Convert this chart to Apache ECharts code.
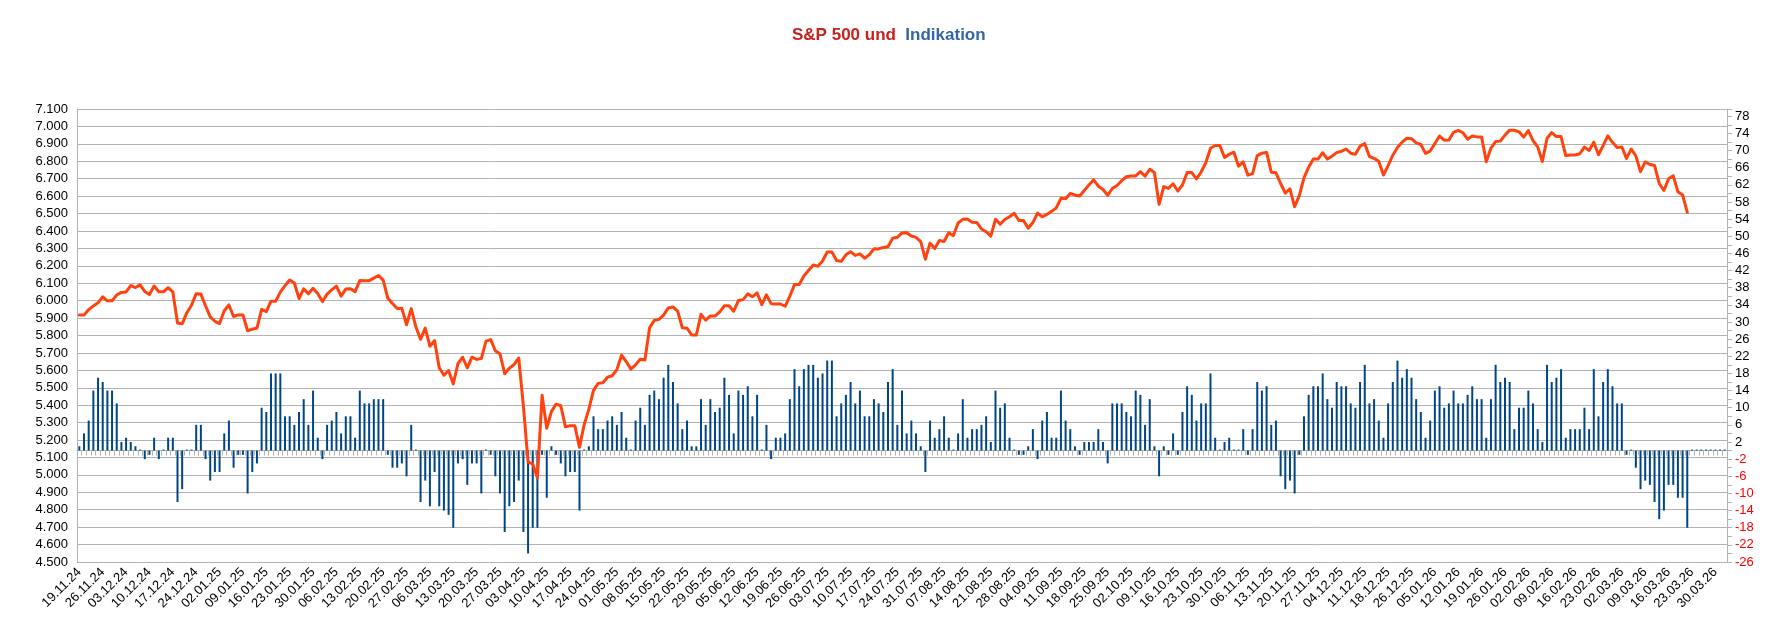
<!DOCTYPE html>
<html><head><meta charset="utf-8">
<script src="https://cdn.jsdelivr.net/npm/echarts@6/dist/echarts.min.js"></script>
<style>html,body{margin:0;padding:0;background:#fff}#c{width:1791px;height:631px}</style>
</head><body><div id="c"></div>
<script>
// x-axis tick labels (every 5th trading-day category)
const tickLabels = ['19.11.24','26.11.24','03.12.24','10.12.24','17.12.24','24.12.24','02.01.25','09.01.25','16.01.25','23.01.25','30.01.25','06.02.25','13.02.25','20.02.25','27.02.25','06.03.25','13.03.25','20.03.25','27.03.25','03.04.25','10.04.25','17.04.25','24.04.25','01.05.25','08.05.25','15.05.25','22.05.25','29.05.25','05.06.25','12.06.25','19.06.25','26.06.25','03.07.25','10.07.25','17.07.25','24.07.25','31.07.25','07.08.25','14.08.25','21.08.25','28.08.25','04.09.25','11.09.25','18.09.25','25.09.25','02.10.25','09.10.25','16.10.25','23.10.25','30.10.25','06.11.25','13.11.25','20.11.25','27.11.25','04.12.25','11.12.25','18.12.25','26.12.25','05.01.26','12.01.26','19.01.26','26.01.26','02.02.26','09.02.26','16.02.26','23.02.26','02.03.26','09.03.26','16.03.26','23.03.26','30.03.26'];
const categoryCount = 353;

// S&P 500 closes (left axis)
const sp500 = [
5916.98,5917.11,5948.71,5969.34,5987.37,6021.63,5998.74,5998.74,6032.38,6047.15,
6049.88,6086.49,6075.11,6090.27,6052.85,6034.91,6084.19,6051.25,6051.09,6074.08,
6050.61,5872.16,5867.08,5930.85,5974.07,6040.04,6037.59,5970.84,5906.94,5881.63,
5868.55,5942.47,5975.38,5909.03,5918.25,5918.25,5827.04,5836.22,5842.91,5949.91,
5937.34,5996.66,5996.66,6049.24,6086.37,6118.71,6101.24,6012.28,6067.70,6039.31,
6071.17,6040.53,5994.57,6037.88,6061.48,6083.57,6025.99,6066.44,6068.50,6051.97,
6115.07,6114.63,6114.63,6129.58,6144.15,6117.52,6013.13,5983.25,5955.25,5956.06,
5861.57,5954.50,5849.72,5778.15,5842.63,5738.52,5770.20,5614.56,5572.07,5599.30,
5521.52,5638.94,5675.12,5614.66,5675.29,5662.89,5667.56,5767.57,5776.65,5712.20,
5693.31,5580.94,5611.85,5633.07,5670.97,5396.52,5074.08,5062.25,4982.77,5456.90,
5268.05,5363.36,5405.97,5396.63,5275.70,5282.70,5282.70,5158.20,5287.76,5375.86,
5484.77,5525.21,5528.75,5560.83,5569.06,5604.14,5686.67,5650.38,5606.91,5631.28,
5663.94,5659.91,5844.19,5886.55,5892.58,5916.93,5958.38,5963.60,5940.46,5844.61,
5842.01,5802.82,5802.82,5921.54,5888.55,5912.17,5911.69,5935.94,5970.37,5970.81,
5939.30,6000.36,6005.88,6038.81,6022.24,6045.26,5976.97,6033.11,5982.72,5980.87,
5980.87,5967.84,6025.17,6092.18,6092.16,6141.02,6173.07,6204.95,6198.01,6227.42,
6279.35,6279.35,6229.98,6225.52,6263.26,6280.46,6259.75,6268.56,6243.76,6263.70,
6297.36,6296.79,6305.60,6309.62,6358.91,6363.35,6388.64,6389.77,6370.86,6362.90,
6339.39,6238.01,6329.94,6299.19,6345.06,6340.00,6389.45,6373.45,6445.76,6466.58,
6468.54,6449.80,6449.15,6411.37,6395.78,6370.17,6466.91,6439.32,6465.94,6481.40,
6501.86,6460.26,6460.26,6415.54,6448.26,6502.08,6481.50,6495.15,6512.61,6532.04,
6587.47,6584.29,6615.28,6606.76,6600.35,6631.96,6664.36,6693.75,6656.92,6637.97,
6604.72,6643.70,6661.21,6688.46,6711.20,6715.35,6715.79,6740.28,6714.59,6753.72,
6735.11,6552.51,6654.72,6644.31,6671.06,6629.07,6664.01,6735.13,6735.35,6699.40,
6738.44,6791.69,6875.16,6890.89,6890.59,6822.34,6840.20,6851.97,6771.55,6796.29,
6720.32,6728.80,6832.43,6846.61,6850.92,6737.49,6734.11,6672.41,6617.32,6642.16,
6538.76,6602.99,6705.12,6765.88,6812.61,6812.61,6849.09,6812.63,6829.37,6849.72,
6857.12,6870.40,6846.51,6840.51,6886.68,6901.00,6827.41,6816.51,6800.26,6721.43,
6774.76,6834.50,6878.49,6909.79,6932.05,6929.94,6905.74,6896.24,6845.50,6858.47,
6902.05,6944.82,6920.93,6921.46,6966.28,6977.27,6963.74,6926.60,6944.47,6940.01,
6940.01,6796.86,6875.62,6913.35,6915.61,6950.23,6978.60,6978.03,6969.01,6939.03,
6976.44,6917.81,6882.72,6798.40,6932.30,6964.82,6941.81,6941.47,6832.76,6836.17,
6836.17,6843.22,6881.31,6861.89,6909.51,6837.75,6890.07,6946.13,6908.86,6878.88,
6881.62,6816.63,6869.50,6830.71,6740.02,6795.99,6781.48,6775.80,6672.62,6632.19,
6699.38,6716.09,6624.70,6606.49,6506.48
];

// Indikation (right axis)
const indikation = [
1,4,7,14,17,16,14,14,11,2, 3,2,1,0,-2,-1,3,-2,0,3,
3,-12,-9,0,0,6,6,-2,-7,-5, -5,4,7,-4,-1,-1,-10,-5,-3,10,
9,18,18,18,8,8,6,9,12,6, 14,3,-2,6,7,9,4,8,8,3,
14,11,11,12,12,12,-1,-4,-4,-3, -6,6,0,-12,-7,-13,-5,-13,-14,-15,
-18,-3,-2,-8,-3,-3,-10,0,-1,-6, -10,-19,-13,-12,-7,-19,-24,-18,-18,-1,
-11,1,-1,-3,-6,-5,-5,-14,0,1, 8,5,5,7,8,6,9,3,0,7,
10,6,13,14,12,17,20,16,11,5, 7,1,1,12,6,12,9,10,17,13,
4,14,13,15,8,13,0,6,-2,3, 3,4,12,19,15,19,20,20,17,18,
21,21,8,11,13,16,11,14,8,8, 12,11,9,16,19,6,14,4,7,4,
1,-5,7,3,5,8,3,0,4,12, 3,5,5,6,8,2,14,10,11,3,
0,-1,-1,1,5,-2,7,9,3,3, 14,7,5,1,-1,2,2,2,5,2,
-3,11,11,11,9,8,14,13,6,12, 1,-6,1,-1,4,-1,9,15,13,7,
11,11,18,3,0,2,3,0,0,5, -1,5,16,14,15,6,7,-6,-9,-7,
-10,-1,8,13,15,15,18,12,10,16, 15,15,11,10,16,20,11,12,7,3,
11,16,21,17,19,17,12,9,3,7, 14,15,10,11,14,11,11,13,15,12,
12,3,12,20,16,17,16,5,10,10, 14,11,5,2,20,16,17,19,3,5,
5,5,10,5,19,8,16,19,15,11, 11,-1,0,-4,-9,-7,-8,-12,-16,-14,
-8,-8,-11,-11,-18,0,0,0,0,0, 0,0,0
];

const categories = [];
for (let i = 0; i < categoryCount; i++) categories.push(i % 5 === 0 ? tickLabels[i / 5] : '');

const FONT = "'Liberation Sans', Arial, sans-serif";
const GRID = '#b3b3b3';
const fmtThousands = v => {
  const s = String(Math.round(v));
  return s.length > 3 ? s.slice(0, s.length - 3) + '.' + s.slice(-3) : s;
};

const chart = echarts.init(document.getElementById('c'), null, {renderer: 'canvas'});
chart.setOption({
  animation: false,
  backgroundColor: '#ffffff',
  title: {
    text: '{r|S&P 500 und}  {b|Indikation}',
    left: 792, top: 27, padding: 0,
    textStyle: {
      fontSize: 17, fontWeight: 'bold', fontFamily: FONT,
      rich: {
        r: {color: '#c9211e', fontSize: 17, fontWeight: 'bold', fontFamily: FONT},
        b: {color: '#3465a4', fontSize: 17, fontWeight: 'bold', fontFamily: FONT}
      }
    }
  },
  grid: {left: 77, right: 64, top: 109, bottom: 69},
  xAxis: {
    type: 'category', data: categories, boundaryGap: true,
    axisLine: {show: true, lineStyle: {color: GRID}},
    axisTick: {show: true, interval: 0, length: 5, lineStyle: {color: GRID}},
    axisLabel: {interval: 4, rotate: 45, fontSize: 13, fontFamily: FONT, color: '#000', margin: 8},
    splitLine: {show: false}
  },
  yAxis: [
    {
      type: 'value', position: 'left', min: 4500, max: 7100, interval: 100,
      axisLine: {show: true, lineStyle: {color: GRID}},
      axisTick: {show: false},
      splitLine: {show: true, lineStyle: {color: GRID, width: 1}},
      axisLabel: {formatter: fmtThousands, fontSize: 13, fontFamily: FONT, color: '#000', margin: 9}
    },
    {
      type: 'value', position: 'right', min: -26, max: 79.7, interval: 4,
      axisLine: {show: true, lineStyle: {color: GRID}},
      axisTick: {show: true, length: 5, lineStyle: {color: GRID}},
      minorTick: {show: true, splitNumber: 2, length: 5, lineStyle: {color: GRID}},
      splitLine: {show: false},
      axisLabel: {
        showMaxLabel: false, fontSize: 13, fontFamily: FONT, margin: 8,
        color: v => (Number(v) < 0 ? '#ff0000' : '#000000')
      }
    }
  ],
  series: [
    {
      name: 'Indikation', type: 'bar', yAxisIndex: 1, data: indikation,
      barWidth: 2, barMinHeight: 1, itemStyle: {color: '#004586'}, z: 2
    },
    {
      name: 'S&P 500', type: 'line', yAxisIndex: 0, data: sp500,
      symbol: 'none', smooth: false,
      lineStyle: {color: '#ff420e', width: 3, join: 'round', cap: 'round'},
      itemStyle: {color: '#ff420e'}, z: 3
    }
  ]
});
</script>
</body></html>
